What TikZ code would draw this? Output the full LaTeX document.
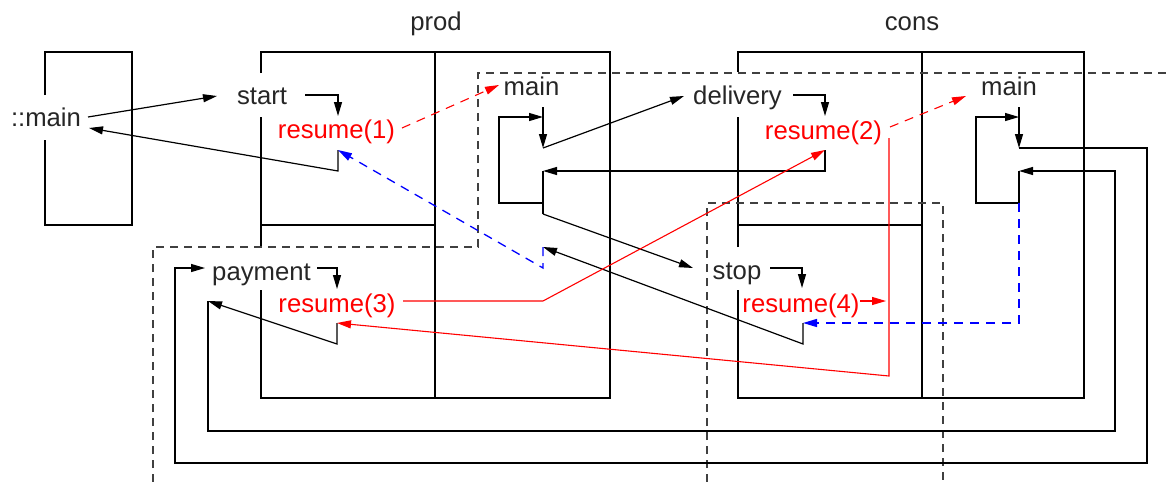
\documentclass[tikz,border=0pt]{standalone}
\usepackage{fontspec}
\setmainfont{Liberation Sans}
\usetikzlibrary{arrows.meta}
\begin{document}
\begin{tikzpicture}[x=1pt,y=-1pt,
  lbl/.style={font=\fontsize{25.7}{30}\selectfont, text=black!85, inner sep=0pt, anchor=base},
  rlbl/.style={lbl, text=red},
  box/.style={line width=2.2pt},
  plain/.style={line width=1.2pt},
  conn/.style={line width=1.2pt, -{Triangle[length=14pt,width=8pt]}},
  dsh/.style={line width=1.1pt, dash pattern=on 8pt off 6pt, black!75},
  cdash/.style={dash pattern=on 9pt off 7pt},
  bluedash/.style={conn, color=blue, cdash, line width=1.3pt},
  reddash/.style={conn, color=red, cdash, line width=1.1pt},
  redline/.style={conn, color=red, line width=1.1pt},
]
\useasboundingbox (0,0) rectangle (1168,482);

% boxes
\draw[box] (45,95) -- (45,52) -- (132,52) -- (132,225) -- (45,225) -- (45,140);
\draw[box] (261,73) -- (261,52) -- (610,52) -- (610,398) -- (261,398) -- (261,290);
\draw[box] (261,247) -- (261,117);
\draw[box] (435,52) -- (435,398);
\draw[box] (261,225) -- (435,225);
\draw[box] (738,72) -- (738,52) -- (1084,52) -- (1084,398) -- (738,398) -- (738,290);
\draw[box] (738,247) -- (738,117);
\draw[box] (922,52) -- (922,398);
\draw[box] (738,225) -- (922,225);

% dashed regions
\draw[dsh] (153,482) -- (153,247) -- (478,247) -- (478,73) -- (1168,73);
\draw[dsh] (707,482) -- (707,203) -- (943,203) -- (943,482);

% labels
\node[lbl] (prod) at (436,30) {prod};
\node[lbl] (cons) at (912,30) {cons};
\node[lbl] (gmain) at (46,126) {::main};
\node[lbl] (start) at (262,104) {start};
\node[rlbl] (r1) at (336.5,138) {resume(1)};
\node[lbl] (pmain) at (531.5,95) {main};
\node[lbl] (delivery) at (737.5,104) {delivery};
\node[rlbl] (r2) at (823.5,139) {resume(2)};
\node[lbl] (cmain) at (1009,95) {main};
\node[lbl] (payment) at (261.5,280) {payment};
\node[rlbl] (r3) at (337,312) {resume(3)};
\node[lbl] (stop) at (737,279) {stop};
\node[rlbl] (r4) at (801,312) {resume(4)};

% connection points
\coordinate (gmainOut) at (88,117);
\coordinate (startIn) at (217,96);
\coordinate (startOut) at (305,95);
\coordinate (r1In) at (338,116);
\coordinate (r1Ret) at (338,150);
\coordinate (r1Ret2) at (338,171);
\coordinate (gmainIn) at (89,128);
\coordinate (r1Out) at (402,128);
\coordinate (pmainIn) at (499,85);
\coordinate (pmainTop) at (543,107);
\coordinate (pA) at (543,148);
\coordinate (deliveryIn) at (684,96);
\coordinate (deliveryOut) at (793,95);
\coordinate (r2In) at (825,116);
\coordinate (r2Ret) at (825,150);
\coordinate (pB) at (543,171);
\coordinate (pLoop) at (543,203);
\coordinate (pLoopIn) at (543,117);
\coordinate (pC) at (543,214);
\coordinate (stopIn) at (693,268);
\coordinate (r2Out) at (890,127);
\coordinate (cmainIn) at (966,96);
\coordinate (cmainTop) at (1019,107);
\coordinate (cA) at (1019,148);
\coordinate (cB) at (1019,171);
\coordinate (cLoop) at (1019,203);
\coordinate (cLoopIn) at (1019,117);
\coordinate (paymentIn) at (205,268);
\coordinate (paymentOut) at (317,268);
\coordinate (r3In) at (337,289);
\coordinate (r3Ret) at (337,323);
\coordinate (r3Ret2) at (337,344);
\coordinate (payRet) at (208,301);
\coordinate (stopOut) at (770,268);
\coordinate (r4In) at (802,288);
\coordinate (r4Ret) at (803,323);
\coordinate (r4Ret2) at (803,344);
\coordinate (pD) at (543,247);
\coordinate (pE) at (543,268);
\coordinate (r4Out) at (860,301);
\coordinate (r4Tip) at (886,301);
\coordinate (r2Down) at (889,138);
\coordinate (r3Out) at (403,301);
\coordinate (r3Bend) at (543,301);

% connectors
\draw[conn] (gmainOut) -- (startIn);
\draw[conn] (startOut) -| (r1In);
\draw[conn] (r1Ret) -- (r1Ret2) -- (gmainIn);
\draw[reddash] (r1Out) -- (pmainIn);
\draw[conn] (pmainTop) -- (pA);
\draw[conn] (pA) -- (deliveryIn);
\draw[conn] (deliveryOut) -| (r2In);
\draw[conn] (r2Ret) |- (pB);
\draw[plain] (pB) -- (pC);
\draw[conn] (pLoop) -- ++(-44,0) |- (pLoopIn);
\draw[conn] (pC) -- (stopIn);
\draw[reddash] (r2Out) -- (cmainIn);
\draw[conn] (cmainTop) -- (cA);
\draw[conn] (cLoop) -- ++(-43,0) |- (cLoopIn);
\draw[conn] (cA) -- (1147,148) -- (1147,463) -- (175,463) |- (paymentIn);
\draw[conn] (paymentOut) -| (r3In);
\draw[conn] (r3Ret) -- (r3Ret2) -- (payRet);
\draw[conn] (payRet) -- (208,431) -- (1115,431) |- (cB);
\draw[plain] (cB) -- (cLoop);
\draw[bluedash] (cLoop) |- (r4Ret);
\draw[conn] (stopOut) -| (r4In);
\draw[conn] (r4Ret) -- (r4Ret2) -- (pD);
\draw[bluedash] (pD) -- (pE) -- (r1Ret);
\draw[redline] (r4Out) -- (r4Tip);
\draw[redline] (r2Down) -- (889,376) -- (r3Ret);
\draw[redline] (r3Out) -- (r3Bend) -- (r2Ret);
\end{tikzpicture}
\end{document}
